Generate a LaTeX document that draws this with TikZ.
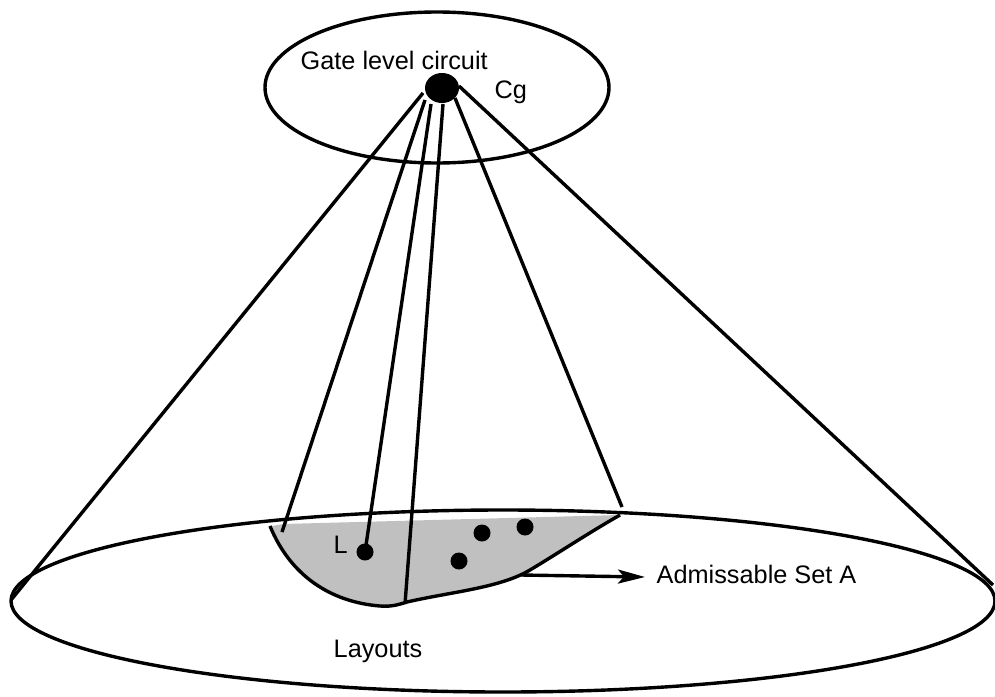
\documentclass[tikz,border=0pt]{standalone}
\usepackage{fontspec}
\setmainfont{Liberation Sans}
\usetikzlibrary{arrows.meta,shapes.geometric}
\begin{document}
\begin{tikzpicture}[x=1pt,y=-1pt,line width=3.4pt,
  lbl/.style={anchor=base west,inner sep=0pt,font=\fontsize{25.3}{30}\selectfont},
  smalldot/.style={circle,fill=black,draw=none,inner sep=0pt,minimum size=17pt},
  cgdot/.style={ellipse,fill=black,draw=none,inner sep=0pt,minimum width=34pt,minimum height=30pt},
  region/.style={fill={rgb,255:red,192;green,192;blue,192},draw=none}]
\useasboundingbox (0,0) rectangle (995,696);
% admissible region fill
\fill[region] (272,526) .. controls (290,575) and (330,602) .. (380,606)
  .. controls (393,607) and (400,604) .. (407,602)
  .. controls (450,592) and (500,588) .. (530,570)
  .. controls (560,552) and (590,532) .. (620,515) -- (283,524) -- cycle;
% ellipses
\draw (437,87.5) ellipse [x radius=172, y radius=75.5];
\draw (503,601) ellipse [x radius=492, y radius=91];
% region outline
\draw (270,526) .. controls (290,575) and (330,602) .. (380,606)
  .. controls (393,607) and (400,604) .. (407,602)
  .. controls (450,592) and (500,588) .. (530,570)
  .. controls (560,552) and (590,532) .. (620,515);
% nodes
\node[cgdot] (cg) at (442,88) {};
\node[smalldot] (dL) at (365,552) {};
\node[smalldot] (d2) at (482,533) {};
\node[smalldot] (d3) at (525,527) {};
\node[smalldot] (d4) at (459,561) {};
% line start and end points
\coordinate (s1) at (423,93);
\coordinate (s2) at (425,100);
\coordinate (s3) at (431,104);
\coordinate (s4) at (443,104);
\coordinate (s5) at (455,98);
\coordinate (s6) at (459,86);
\coordinate (e1) at (11,600);
\coordinate (e2) at (282,532);
\coordinate (e4) at (405,604);
\coordinate (e5) at (622,507);
\coordinate (e6) at (993,585);
\draw (s1) -- (e1);
\draw (s2) -- (e2);
\draw (s3) -- (dL.center);
\draw (s4) -- (e4);
\draw (s5) -- (e5);
\draw (s6) -- (e6);
% arrow
\coordinate (a0) at (521,575);
\node[lbl] (adm) at (655,583) {Admissable Set A};
\coordinate (a1) at (645,577);
\draw[-{Stealth[length=27pt,width=14pt,inset=6pt]}] (a0) -- (a1);
% labels
\node[lbl] (gate) at (299,69) {Gate level circuit};
\node[lbl] (cglbl) at (493,98) {Cg};
\node[lbl] (llbl) at (332,553) {L};
\node[lbl] (lay) at (332,657) {Layouts};
\end{tikzpicture}
\end{document}
